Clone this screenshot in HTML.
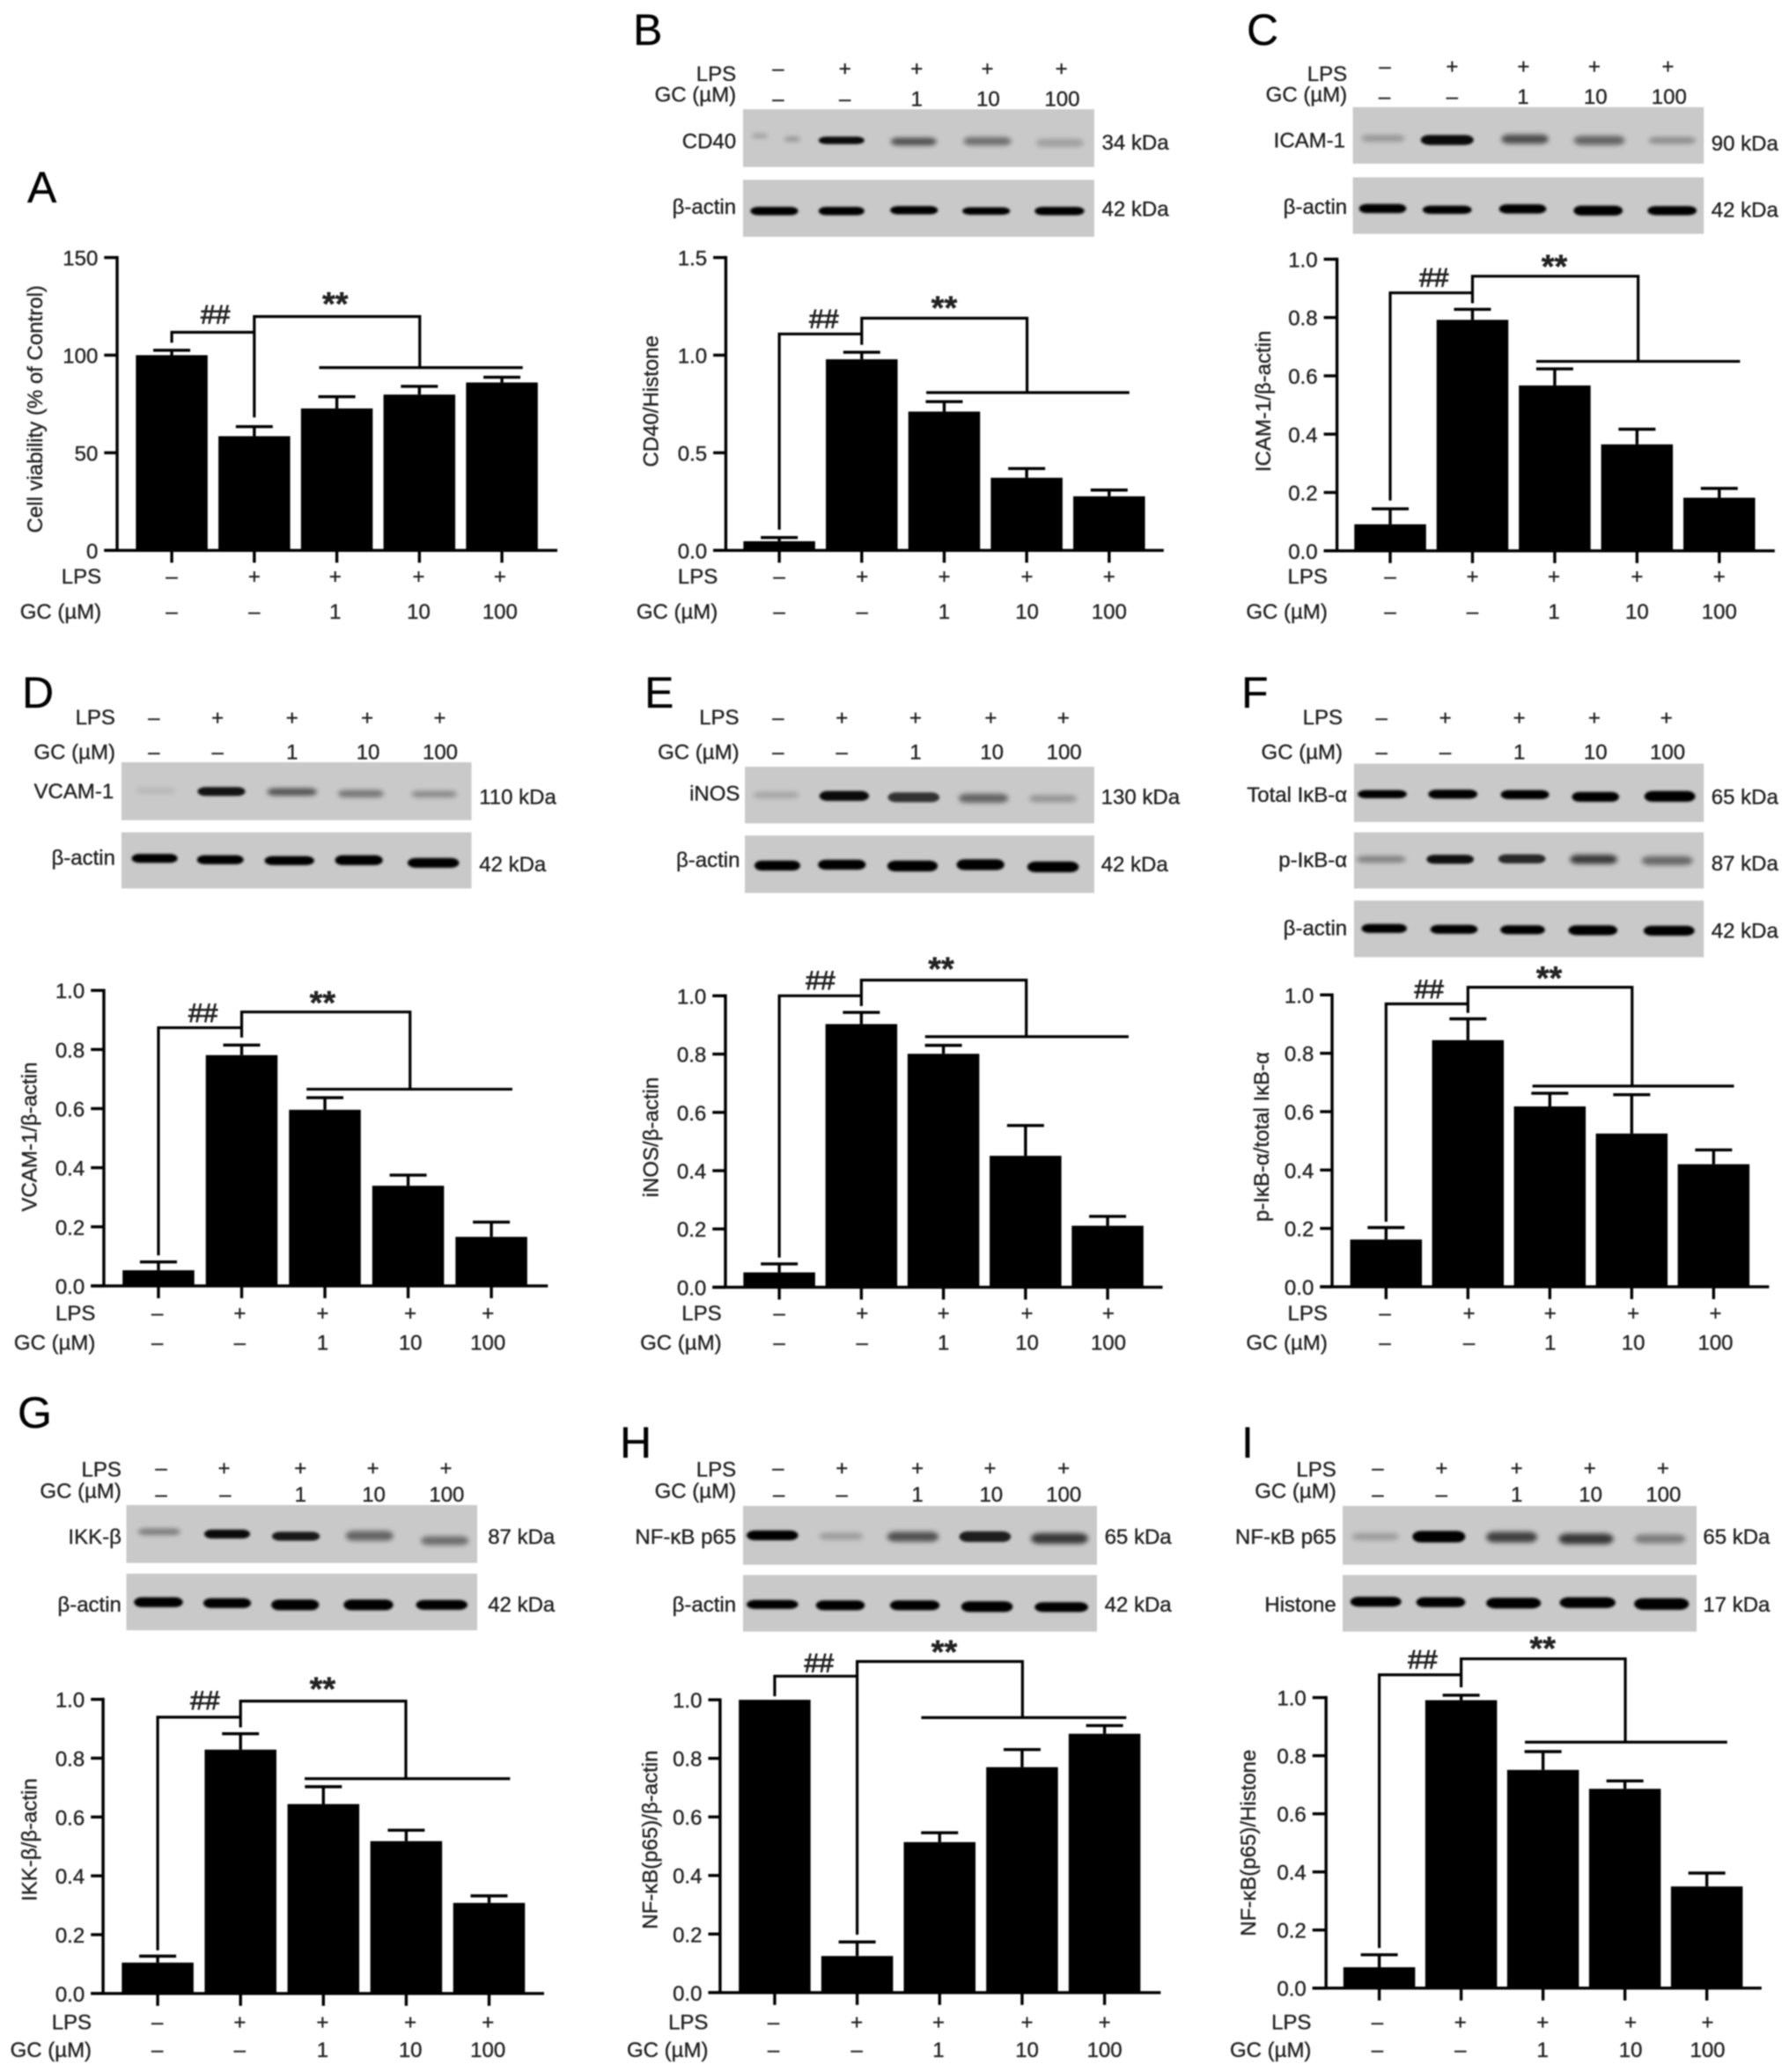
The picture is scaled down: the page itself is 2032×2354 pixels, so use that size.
<!DOCTYPE html>
<html lang="en">
<head>
<meta charset="utf-8">
<title>Western blot and densitometry bar charts, panels A to I</title>
<style>
  html, body { margin: 0; padding: 0; background: #fff; }
  #figure { display: block; width: 2032px; height: 2354px; filter: blur(0.85px); font-family: "Liberation Sans", Arial, sans-serif; }
  #figure text { fill: #222; font-size: 24px; stroke: #222; stroke-width: 0.35px; }
</style>
</head>
<body>
<svg id="figure" xmlns="http://www.w3.org/2000/svg" width="2032" height="2354" viewBox="0 0 2032 2354">
  <defs>
    <filter id="band-soft" x="-20%" y="-100%" width="140%" height="300%"><feGaussianBlur stdDeviation="2.6"/></filter>
    <filter id="band-hard" x="-20%" y="-100%" width="140%" height="300%"><feGaussianBlur stdDeviation="1.3"/></filter>
  </defs>
  <rect x="0" y="0" width="2032" height="2354" fill="#ffffff"/>
  <g id="root"></g>
</svg>
<script>
// ---------- chart data ----------
const lpsRow = ['–', '+', '+', '+', '+'];
const gcRow = ['–', '–', '1', '10', '100'];

const ticksA = [0, 50, 100, 150];
const ticksB = ['0.0', '0.5', '1.0', '1.5'];
const ticksUnit = ['0.0', '0.2', '0.4', '0.6', '0.8', '1.0'];

const valuesA = [100, 58.5, 72.7, 79.8, 86];
const errorsA = [2.5, 4.9, 6, 4.2, 2.7];
const valuesB = [0.047, 0.979, 0.711, 0.372, 0.277];
const errorsB = [0.019, 0.036, 0.051, 0.047, 0.032];
const valuesC = [0.091, 0.792, 0.567, 0.365, 0.182];
const errorsC = [0.053, 0.036, 0.057, 0.052, 0.032];
const valuesD = [0.053, 0.781, 0.596, 0.339, 0.166];
const errorsD = [0.028, 0.034, 0.041, 0.036, 0.05];
const valuesE = [0.051, 0.903, 0.801, 0.451, 0.211];
const errorsE = [0.029, 0.04, 0.029, 0.104, 0.032];
const valuesF = [0.162, 0.845, 0.618, 0.525, 0.42];
const errorsF = [0.041, 0.073, 0.045, 0.133, 0.049];
const valuesG = [0.105, 0.829, 0.644, 0.518, 0.308];
const errorsG = [0.022, 0.054, 0.059, 0.037, 0.024];
const valuesH = [1, 0.125, 0.514, 0.77, 0.884];
const errorsH = [0, 0.048, 0.032, 0.06, 0.028];
const valuesI = [0.072, 0.991, 0.751, 0.686, 0.35];
const errorsI = [0.043, 0.017, 0.063, 0.027, 0.046];

// ---------- layout, written in crop coordinates and mapped through ox/oy/sx/sy ----------
const panels = [
  { id:'a', letter:'A', lx:31, ly:230, ox:0, oy:0, sx:2.24, sy:2.119,
    values:valuesA, errors:errorsA, ticks:ticksA, max:150, ylabel:'Cell viability (% of Control)',
    axisX:298, topY:620, baseY:1325, tickL:265, endX:1418, cat0:437, step:210, labX:90, labY:985,
    rowRight:258, rowLps:1405, rowGc:1490, rowX:[437,647,853,1065,1272],
    br:{y1:825,y2:800,y3:1005,top:762,x3:1068,line:885,la:812,lb:1330}, hash:[548,757], star:[853,720] },
  { id:'b', letter:'B', lx:719, ly:51, ox:680, oy:0, sx:2.306, sy:2.119,
    values:valuesB, errors:errorsB, ticks:ticksB, max:1.5, ylabel:'CD40/Histone',
    axisX:333, topY:620, baseY:1325, tickL:300, endX:1480, cat0:473, step:216, labX:137, labY:966,
    rowRight:312, rowLps:1405, rowGc:1490, rowX:[473,690,905,1122,1337],
    br:{y1:1275,y2:804,y3:830,top:766,x3:1122,line:945,la:858,lb:1390}, hash:[590,767], star:[905,730],
    head:{right:360,lps:195,gc:245,r1:182,r2:255,x1:[470,645,833,1018,1212],x2:[470,645,833,1020,1214]},
    blots:[
      {name:'cd40',label:'CD40',kda:'34 kDa',box:[378,263,1298,402],lb:357,kb:360,kx:1318,labelRight:360,
       bands:[[422,40,327,9,.25],[507,40,335,10,.3],[636,120,338,18,.95],[825,120,341,18,.62],[1018,125,340,20,.45],[1208,125,344,20,.2]]},
      {name:'actin',label:'β-actin',kda:'42 kDa',box:[378,433,1298,570],lb:515,kb:520,kx:1318,labelRight:360,
       bands:[[460,125,508,20,1],[636,120,508,20,1],[826,125,506,20,1],[1015,125,508,18,1],[1207,130,508,20,1]]}
    ] },
  { id:'c', letter:'C', lx:1416, ly:51, ox:1360, oy:0, sx:2.333, sy:2.119,
    values:valuesC, errors:errorsC, ticks:ticksUnit, max:1, ylabel:'ICAM-1/β-actin',
    axisX:370, topY:624, baseY:1326, tickL:335, endX:1530, cat0:511, step:218, labX:175, labY:966,
    rowRight:345, rowLps:1405, rowGc:1490, rowX:[511,729,945,1165,1383],
    br:{y1:1205,y2:705,y3:730,top:665,x3:1168,line:870,la:898,lb:1438}, hash:[627,667], star:[946,630],
    head:{right:397,lps:195,gc:245,r1:177,r2:250,x1:[497,675,864,1052,1247],x2:[496,675,863,1055,1250]},
    blots:[
      {name:'icam',label:'ICAM-1',kda:'90 kDa',box:[412,258,1342,394],lb:355,kb:362,kx:1362,labelRight:392,
       bands:[[492,115,333,16,.25],[662,140,337,24,.95],[868,125,335,22,.62],[1065,135,338,22,.5],[1258,125,338,16,.3]]},
      {name:'actin',label:'β-actin',kda:'42 kDa',box:[412,427,1342,563],lb:515,kb:522,kx:1362,labelRight:397,
       bands:[[491,125,502,22,1],[662,130,505,20,1],[862,125,503,22,1],[1062,130,507,24,1],[1258,130,507,22,1]]}
    ] },
  { id:'d', letter:'D', lx:25, ly:804, ox:0, oy:740, sx:2.306, sy:1.96,
    values:valuesD, errors:errorsD, ticks:ticksUnit, max:1, ylabel:'VCAM-1/β-actin',
    axisX:272, topY:755, baseY:1413, tickL:238, endX:1435, cat0:415, step:218, labX:77, labY:1081,
    rowRight:250, rowLps:1490, rowGc:1555, rowX:[412,628,845,1075,1278],
    br:{y1:1345,y2:838,y3:860,top:803,x3:1074,line:975,la:803,lb:1342}, hash:[532,805], star:[845,772],
    head:{right:302,lps:163,gc:240,r1:164,r2:240,x1:[403,570,765,962,1152],x2:[403,570,765,964,1153]},
    blots:[
      {name:'vcam',label:'VCAM-1',kda:'110 kDa',box:[318,247,1235,376],lb:327,kb:340,kx:1255,labelRight:298,
       bands:[[408,105,310,14,.08],[580,125,312,20,.9],[765,130,313,16,.6],[945,120,317,16,.42],[1137,120,318,14,.32]]},
      {name:'actin',label:'β-actin',kda:'42 kDa',box:[318,403,1235,528],lb:475,kb:490,kx:1255,labelRight:302,
       bands:[[405,120,461,20,1],[577,122,464,20,1],[758,130,466,20,1],[940,125,465,22,1],[1135,135,471,22,1]]}
    ] },
  { id:'e', letter:'E', lx:732, ly:804, ox:680, oy:740, sx:2.306, sy:1.96,
    values:valuesE, errors:errorsE, ticks:ticksUnit, max:1, ylabel:'iNOS/β-actin',
    axisX:332, topY:767, baseY:1416, tickL:298, endX:1477, cat0:473, step:215, labX:137, labY:1082,
    rowRight:322, rowLps:1490, rowGc:1555, rowX:[473,690,903,1122,1335],
    br:{y1:1350,y2:767,y3:790,top:732,x3:1120,line:858,la:855,lb:1388}, hash:[581,732], star:[897,697],
    head:{right:368,lps:163,gc:240,r1:164,r2:240,x1:[470,637,830,1027,1217],x2:[470,637,830,1030,1219]},
    blots:[
      {name:'inos',label:'iNOS',kda:'130 kDa',box:[383,257,1298,383],lb:332,kb:340,kx:1316,labelRight:370,
       bands:[[465,120,320,14,.18],[643,130,322,22,.95],[825,135,325,22,.75],[1008,130,327,20,.5],[1190,125,328,16,.26]]},
      {name:'actin',label:'β-actin',kda:'42 kDa',box:[383,410,1298,538],lb:480,kb:490,kx:1316,labelRight:370,
       bands:[[468,120,477,22,1],[637,125,475,22,1],[822,132,478,24,1],[1000,125,475,24,1],[1190,135,480,24,1]]}
    ] },
  { id:'f', letter:'F', lx:1410, ly:804, ox:1360, oy:740, sx:2.333, sy:1.96,
    values:valuesF, errors:errorsF, ticks:ticksUnit, max:1, ylabel:'p-IκB-α/total IκB-α',
    axisX:357, topY:765, baseY:1415, tickL:325, endX:1515, cat0:500, step:217, labX:170, labY:1081,
    rowRight:345, rowLps:1490, rowGc:1555, rowX:[497,720,935,1155,1373],
    br:{y1:1270,y2:785,y3:805,top:748,x3:1152,line:968,la:888,lb:1422}, hash:[614,752], star:[932,717],
    head:{right:385,lps:163,gc:240,r1:164,r2:240,x1:[488,657,853,1052,1243],x2:[488,657,853,1055,1246]},
    blots:[
      {name:'total-ikb',label:'Total IκB-α',kda:'65 kDa',box:[415,250,1342,380],lb:335,kb:340,kx:1362,labelRight:397,
       bands:[[490,130,318,18,1],[677,130,318,20,1],[868,128,319,20,1],[1055,125,324,22,1],[1252,135,323,24,1]]},
      {name:'p-ikb',label:'p-IκB-α',kda:'87 kDa',box:[415,403,1342,528],lb:480,kb:488,kx:1362,labelRight:397,
       bands:[[487,130,463,14,.38],[670,125,463,20,.92],[860,125,462,20,.8],[1050,125,463,20,.72],[1245,135,466,20,.48]]},
      {name:'actin',label:'β-actin',kda:'42 kDa',box:[415,555,1342,681],lb:632,kb:638,kx:1362,labelRight:397,
       bands:[[495,120,617,20,1],[680,125,619,20,1],[862,118,620,20,1],[1048,130,621,22,1],[1250,135,622,22,1]]}
    ] },
  { id:'g', letter:'G', lx:20, ly:1622, ox:0, oy:1560, sx:2.306, sy:1.975,
    values:valuesG, errors:errorsG, ticks:ticksUnit, max:1, ylabel:'IKK-β/β-actin',
    axisX:270, topY:732, baseY:1392, tickL:238, endX:1425, cat0:413, step:217, labX:77, labY:1047,
    rowRight:240, rowLps:1472, rowGc:1535, rowX:[412,628,845,1075,1278],
    br:{y1:1295,y2:772,y3:795,top:736,x3:1063,line:910,la:798,lb:1336}, hash:[537,734], star:[845,698],
    head:{right:318,lps:232,gc:280,r1:229,r2:288,x1:[422,587,787,977,1168],x2:[422,590,787,979,1170]},
    blots:[
      {name:'ikk',label:'IKK-β',kda:'87 kDa',box:[331,296,1250,426],lb:383,kb:383,kx:1278,labelRight:318,
       bands:[[417,110,356,14,.4],[595,120,361,20,.95],[775,125,366,20,.88],[968,125,365,22,.5],[1165,125,376,20,.45]]},
      {name:'actin',label:'β-actin',kda:'42 kDa',box:[331,450,1250,577],lb:535,kb:535,kx:1278,labelRight:318,
       bands:[[415,128,514,22,1],[595,125,516,22,1],[773,125,520,24,1],[965,130,520,24,1],[1157,135,520,22,1]]}
    ] },
  { id:'h', letter:'H', lx:704, ly:1656, ox:680, oy:1560, sx:2.306, sy:1.975,
    values:valuesH, errors:errorsH, ticks:ticksUnit, max:1, ylabel:'NF-κB(p65)/β-actin',
    axisX:318, topY:733, baseY:1390, tickL:287, endX:1472, cat0:461, step:216, labX:135, labY:1047,
    rowRight:287, rowLps:1472, rowGc:1535, rowX:[458,676,890,1122,1325],
    br:{y1:725,y2:680,y3:1260,top:647,x3:1110,line:773,la:845,lb:1382}, hash:[577,650], star:[905,615],
    head:{right:360,lps:232,gc:280,r1:229,r2:288,x1:[470,637,835,1025,1218],x2:[472,637,835,1028,1218]},
    blots:[
      {name:'p65',label:'NF-κB p65',kda:'65 kDa',box:[378,298,1305,430],lb:383,kb:383,kx:1325,labelRight:360,
       bands:[[455,135,364,22,1],[635,115,366,16,.22],[823,135,367,22,.6],[1012,135,367,24,.85],[1207,150,371,24,.72]]},
      {name:'actin',label:'β-actin',kda:'42 kDa',box:[378,453,1305,580],lb:535,kb:535,kx:1325,labelRight:360,
       bands:[[455,135,519,20,1],[633,128,521,22,1],[828,130,521,22,1],[1017,135,524,24,1],[1212,140,525,22,1]]}
    ] },
  { id:'i', letter:'I', lx:1410, ly:1656, ox:1360, oy:1560, sx:2.333, sy:1.975,
    values:valuesI, errors:errorsI, ticks:ticksUnit, max:1, ylabel:'NF-κB(p65)/Histone',
    axisX:341, topY:728, baseY:1380, tickL:305, endX:1495, cat0:482, step:217, labX:135, labY:1054,
    rowRight:302, rowLps:1472, rowGc:1535, rowX:[477,697,915,1148,1352],
    br:{y1:1290,y2:677,y3:705,top:641,x3:1134,line:828,la:868,lb:1404}, hash:[597,642], star:[915,607],
    head:{right:368,lps:232,gc:280,r1:229,r2:288,x1:[478,647,846,1040,1234],x2:[478,647,846,1042,1235]},
    blots:[
      {name:'p65',label:'NF-κB p65',kda:'65 kDa',box:[385,298,1323,430],lb:383,kb:383,kx:1340,labelRight:368,
       bands:[[472,125,367,16,.22],[640,140,367,26,1],[833,135,368,24,.68],[1030,145,372,24,.72],[1226,135,372,20,.38]]},
      {name:'histone',label:'Histone',kda:'17 kDa',box:[385,453,1323,580],lb:535,kb:535,kx:1340,labelRight:368,
       bands:[[473,135,513,22,1],[645,130,514,22,1],[838,145,516,24,1],[1034,148,515,24,1],[1230,145,518,26,1]]}
    ] }
];

// ---------- drawing ----------
const NS = 'http://www.w3.org/2000/svg';
const root = document.getElementById('root');
const BAR_W = 81.5, CAP_W = 42, AXIS_W = 3.4, BR_W = 3.2, TICK_LEN = 14;

function shape(parent, tag, attrs) {
  const n = document.createElementNS(NS, tag);
  for (const k in attrs) n.setAttribute(k, attrs[k]);
  parent.appendChild(n);
  return n;
}
function line(parent, x1, y1, x2, y2, w) {
  return shape(parent, 'line', { x1: x1, y1: y1, x2: x2, y2: y2, stroke: '#000', 'stroke-width': w });
}
function label(parent, x, y, str, anchor) {
  const n = shape(parent, 'text', { x: x, y: y, 'text-anchor': anchor || 'middle' });
  n.textContent = str;
  return n;
}

panels.forEach(function (p) {
  const X = function (v) { return p.ox + v / p.sx; };
  const Y = function (v) { return p.oy + v / p.sy; };
  const yScale = function (v) { return Y(p.baseY) - (v / p.max) * (Y(p.baseY) - Y(p.topY)); };
  const xScale = function (i) { return X(p.cat0 + i * p.step); };

  const g = shape(root, 'g', {});
  
  

  const letter = label(g, p.lx, p.ly, p.letter, 'start');
  
  
  letter.style.fontSize = '50px';
  letter.style.fill = '#000';

  // blot header rows and blots
  if (p.head) {
    const lpsHead = label(g, X(p.head.right), Y(p.head.lps), 'LPS', 'end');
    
    
    const gcHead = label(g, X(p.head.right), Y(p.head.gc), 'GC (µM)', 'end');
    
    
    lpsRow.forEach(function (s, i) {
      const t = label(g, X(p.head.x1[i]), Y(p.head.r1), s);
      
      
    });
    gcRow.forEach(function (s, i) {
      const t = label(g, X(p.head.x2[i]), Y(p.head.r2), s);
      
      
    });
    p.blots.forEach(function (b) {
      const blot = shape(g, 'rect', { x: X(b.box[0]), y: Y(b.box[1]), width: (b.box[2] - b.box[0]) / p.sx, height: (b.box[3] - b.box[1]) / p.sy, fill: '#c9c9c9' });
      
      
      b.bands.forEach(function (d) {
        const w = d[1] / p.sx, h = d[3] / p.sy;
        const band = shape(g, 'rect', { x: X(d[0]) - w / 2, y: Y(d[2]) - h / 2, width: w, height: h, rx: w / 6, ry: h / 2, fill: '#050505', opacity: d[4], filter: d[4] < 0.75 ? 'url(#band-soft)' : 'url(#band-hard)' });
        
        
      });
      const name = label(g, X(b.labelRight), Y(b.lb), b.label, 'end');
      
      
      const kda = label(g, X(b.kx), Y(b.kb), b.kda, 'start');
      
      
    });
  }

  // bars and error bars
  p.values.forEach(function (v, i) {
    const top = yScale(v);
    const bar = shape(g, 'rect', { x: xScale(i) - BAR_W / 2, y: top, width: BAR_W, height: yScale(0) - top, fill: '#000' });
    
    
    if (p.errors[i] > 0) {
      const et = yScale(v + p.errors[i]);
      const stem = line(g, xScale(i), top, xScale(i), et, AXIS_W);
      
      
      const cap = line(g, xScale(i) - CAP_W / 2, et, xScale(i) + CAP_W / 2, et, AXIS_W);
      
      
    }
  });

  // axes
  const yAxis = line(g, X(p.axisX), yScale(p.max) - AXIS_W / 2, X(p.axisX), yScale(0), AXIS_W);
  
  
  const xAxis = line(g, X(p.tickL), yScale(0), X(p.endX), yScale(0), AXIS_W);
  
  

  p.ticks.forEach(function (t) {
    const y = yScale(Number(t));
    const tick = line(g, X(p.tickL), y, X(p.axisX), y, AXIS_W);
    
    
    const tl = label(g, X(p.tickL) - 7, y + 9, String(t), 'end');
    
    
  });

  p.values.forEach(function (v, i) {
    const tick = line(g, xScale(i), yScale(0), xScale(i), yScale(0) + TICK_LEN, AXIS_W);
    
    
  });

  const ylab = label(g, 0, 0, p.ylabel);
  ylab.setAttribute('transform', 'translate(' + (X(p.labX) + 8) + ',' + Y(p.labY) + ') rotate(-90)');
  
  

  // treatment rows under the axis
  const lpsLab = label(g, X(p.rowRight), Y(p.rowLps), 'LPS', 'end');
  
  
  const gcLab = label(g, X(p.rowRight), Y(p.rowGc), 'GC (µM)', 'end');
  
  
  lpsRow.forEach(function (s, i) {
    const t = label(g, X(p.rowX[i]), Y(p.rowLps), s);
    
    
  });
  gcRow.forEach(function (s, i) {
    const t = label(g, X(p.rowX[i]), Y(p.rowGc), s);
    
    
  });

  // significance brackets
  const br = p.br;
  const hashPath = shape(g, 'path', {
    d: 'M' + xScale(0) + ' ' + Y(br.y1) + 'V' + Y(br.y2) + 'H' + xScale(1),
    fill: 'none', stroke: '#000', 'stroke-width': BR_W
  });
  
  
  const starPath = shape(g, 'path', {
    d: 'M' + xScale(1) + ' ' + Y(br.y3) + 'V' + Y(br.top) + 'H' + X(br.x3) + 'V' + Y(br.line),
    fill: 'none', stroke: '#000', 'stroke-width': BR_W
  });
  
  
  const spanLine = line(g, X(br.la), Y(br.line), X(br.lb), Y(br.line), BR_W);
  
  

  const hash = label(g, X(p.hash[0]), Y(p.hash[1]) + 10.5, '##');
  
  
  hash.style.fontSize = '30px';
  hash.style.strokeWidth = '0.9px';
  const star = label(g, X(p.star[0]), Y(p.star[1]) + 18, '**');
  
  
  star.style.fontSize = '38px';
  star.style.fontWeight = 'bold';
});
</script>
</body>
</html>
